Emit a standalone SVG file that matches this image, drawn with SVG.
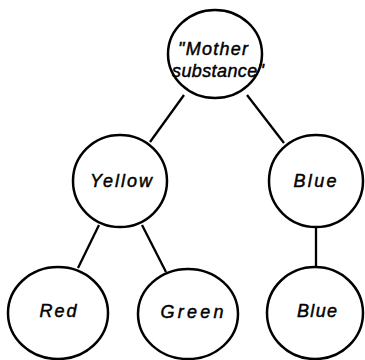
<svg xmlns="http://www.w3.org/2000/svg" width="365" height="360" viewBox="0 0 365 360">
<style>
.n{fill:#fff;stroke:#000;stroke-width:2.5}
.t{font-family:"Liberation Sans",Arial,sans-serif;font-style:italic;font-size:18px;text-anchor:middle;fill:#000;stroke:#000;stroke-width:0.45}
.c{stroke:#000;stroke-width:2.3;fill:none}
</style>
<rect width="365" height="360" fill="#fff"/>
<g id="connectors">
<line class="c" x1="184" y1="95" x2="150" y2="142"/>
<line class="c" x1="247" y1="95" x2="284" y2="143"/>
<line class="c" x1="99" y1="225" x2="78" y2="268"/>
<line class="c" x1="142" y1="225" x2="166" y2="272"/>
<line class="c" x1="316" y1="227" x2="316" y2="266"/>
</g>
<g id="mother"><ellipse class="n" cx="215" cy="54" rx="47" ry="44"/><text class="t" x="213" y="55" textLength="70" lengthAdjust="spacing">"Mother</text><text class="t" x="218" y="77" textLength="92" lengthAdjust="spacing">substance"</text></g>
<g id="yellow"><ellipse class="n" cx="120" cy="181" rx="47" ry="46"/><text class="t" x="121" y="187" textLength="62" lengthAdjust="spacing">Yellow</text></g>
<g id="blue1"><ellipse class="n" cx="316" cy="181" rx="47" ry="46"/><text class="t" x="315" y="187" textLength="43" lengthAdjust="spacing">Blue</text></g>
<g id="red"><ellipse class="n" cx="58" cy="313" rx="50" ry="46"/><text class="t" x="58" y="317" textLength="37" lengthAdjust="spacing">Red</text></g>
<g id="green"><ellipse class="n" cx="188" cy="314" rx="50" ry="45"/><text class="t" x="192" y="318" textLength="63" lengthAdjust="spacing">Green</text></g>
<g id="blue2"><ellipse class="n" cx="315" cy="313" rx="48" ry="46"/><text class="t" x="317" y="317" textLength="40" lengthAdjust="spacing">Blue</text></g>
</svg>
